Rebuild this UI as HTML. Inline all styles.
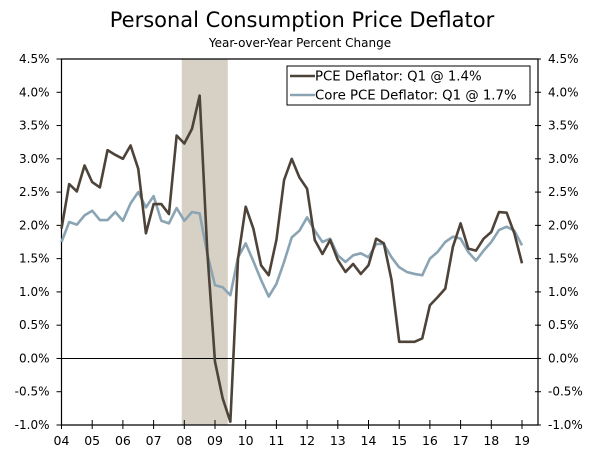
<!DOCTYPE html>
<html><head><meta charset="utf-8"><style>
body{margin:0;background:#fff;}
svg text{font-family:"DejaVu Sans","Liberation Sans",sans-serif;fill:#000;}
</style></head><body>
<svg id="chart" width="600" height="459" xmlns="http://www.w3.org/2000/svg">
<text x="302" y="27" text-anchor="middle" font-size="21">Personal Consumption Price Deflator</text>
<text x="300" y="47" text-anchor="middle" font-size="12">Year-over-Year Percent Change</text>
<g id="plot"></g>
</svg>
<script>
const yearLabels=["04","05","06","07","08","09","10","11","12","13","14","15","16","17","18","19"];
const yTicks=[-1.0,-0.5,0,0.5,1.0,1.5,2.0,2.5,3.0,3.5,4.0,4.5];
const pce=[1.95,2.62,2.51,2.9,2.65,2.57,3.13,3.06,3.0,3.2,2.85,1.88,2.32,2.32,2.17,3.35,3.23,3.45,3.95,1.6,-0.05,-0.6,-0.95,1.5,2.28,1.95,1.4,1.25,1.78,2.68,3.0,2.72,2.55,1.78,1.57,1.78,1.48,1.3,1.42,1.27,1.4,1.8,1.73,1.18,0.25,0.25,0.25,0.3,0.8,0.92,1.05,1.68,2.03,1.65,1.62,1.8,1.9,2.2,2.19,1.88,1.43];
const core=[1.75,2.05,2.01,2.15,2.22,2.08,2.08,2.2,2.07,2.33,2.5,2.27,2.44,2.07,2.03,2.26,2.07,2.2,2.18,1.57,1.1,1.07,0.95,1.52,1.73,1.46,1.18,0.93,1.12,1.45,1.82,1.92,2.12,1.92,1.75,1.8,1.55,1.45,1.55,1.58,1.52,1.72,1.72,1.52,1.37,1.3,1.27,1.25,1.5,1.6,1.75,1.83,1.8,1.6,1.47,1.62,1.75,1.93,1.98,1.92,1.7];
const recession=[2007.917,2009.417];
const L=61.5,R=538,T=59,B=425,x0=2004,x1=2019;
const ns="http://www.w3.org/2000/svg";
const g=document.getElementById('plot');
function X(t){return L+(t-x0)*(522-L)/(x1-x0);}
function Y(v){return B-(v+1)*(B-T)/5.5;}
function el(tag,a){const e=document.createElementNS(ns,tag);for(const k in a)e.setAttribute(k,a[k]);g.appendChild(e);return e;}
let r=el('rect',{x:X(recession[0]),y:T,width:X(recession[1])-X(recession[0]),height:B-T,fill:'#d6d1c4'});


let z=el('line',{x1:L,x2:R,y1:Y(0),y2:Y(0),stroke:'#000','stroke-width':1});


let fr=el('path',{d:`M${L},${T}H${R}V${B}H${L}Z`,fill:'none',stroke:'#000','stroke-width':1.2});


yTicks.forEach(v=>{
  const y=Y(v);
  el('line',{x1:L-5,x2:L,y1:y,y2:y,stroke:'#000'});
  el('line',{x1:R-3,x2:R+3,y1:y,y2:y,stroke:'#000'});
  const lab=v.toFixed(1)+'%';
  let t=el('text',{x:L-12,y:y+4,'text-anchor':'end','font-size':12});t.textContent=lab;
  
  
  let t2=el('text',{x:R+10,y:y+4,'font-size':12});t2.textContent=lab;
  
  
});
yearLabels.forEach((s,i)=>{
  const x=X(x0+i);
  el('line',{x1:x,x2:x,y1:B-5,y2:B+4,stroke:'#000'});
  let t=el('text',{x:x,y:445,'text-anchor':'middle','font-size':12.5});t.textContent=s;
  
  
});
function line(data,color,name){
  const d=data.map((v,i)=>(i?'L':'M')+X(x0+i/4).toFixed(2)+','+Y(v).toFixed(2)).join('');
  let p=el('path',{d:d,fill:'none',stroke:color,'stroke-width':2.6,'stroke-linejoin':'round'});
  
  
}
line(core,'#8aa4b4','core-pce-line');
line(pce,'#4e4339','pce-line');
let lb=el('rect',{x:287,y:66,width:243,height:39,fill:'#fff',stroke:'#000','stroke-width':1});


[['PCE Deflator: Q1 @ 1.4%','#4e4339',76],['Core PCE Deflator: Q1 @ 1.7%','#8aa4b4',95]].forEach(([s,c,y])=>{
  el('line',{x1:290,x2:315,y1:y,y2:y,stroke:c,'stroke-width':2.6});
  let t=el('text',{x:315,y:y+4.5,'font-size':13.3});t.textContent=s;
  
  
});
</script>
</body></html>
